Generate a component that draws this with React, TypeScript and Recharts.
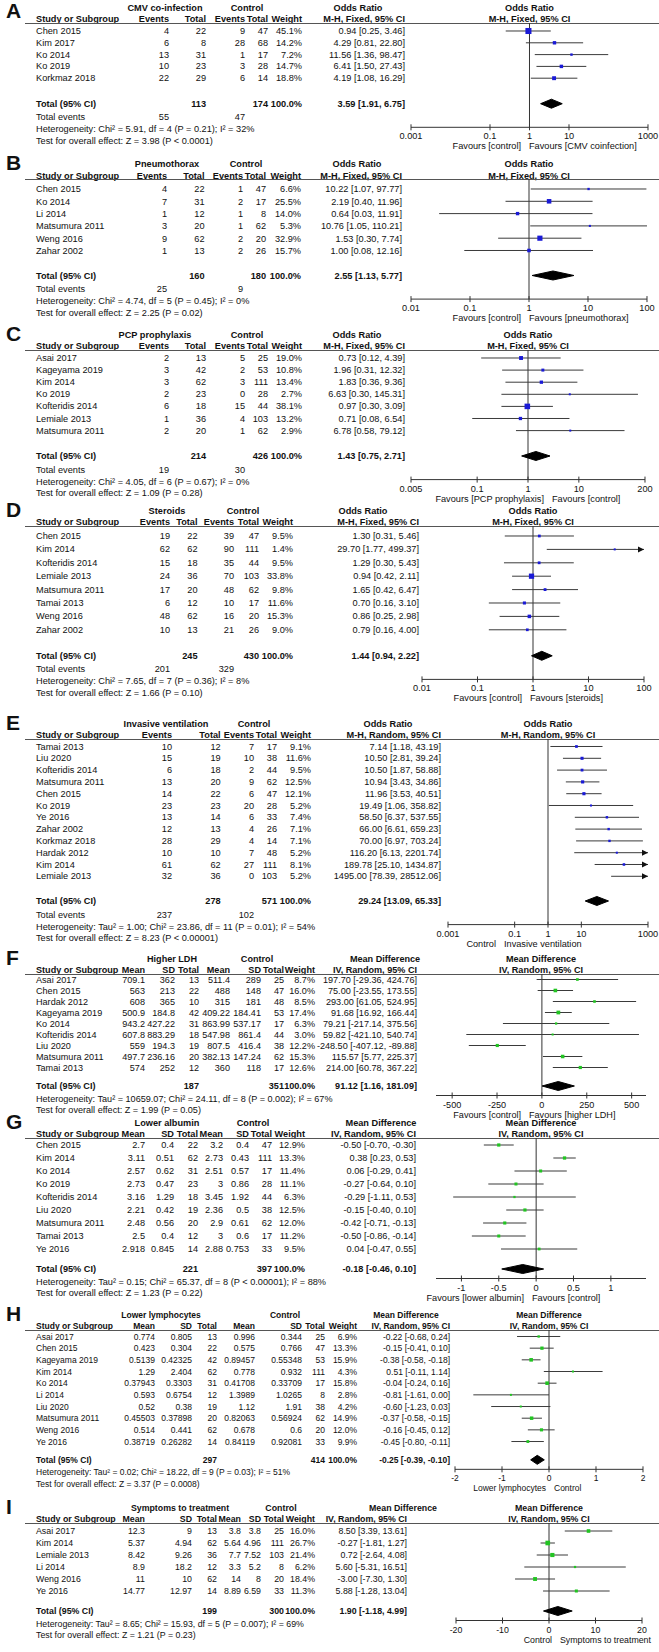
import React from "react";
import { ScatterChart, Scatter, XAxis, YAxis, ErrorBar, ReferenceLine } from "recharts";

const FONT = "'Liberation Sans', Arial, Helvetica, sans-serif";

// ---------------- A: CMV co-infection ----------------
const cmvStudies = ["Chen 2015", "Kim 2017", "Ko 2014", "Ko 2019", "Korkmaz 2018"];
const cmvExpEvents = [4, 6, 13, 10, 22];
const cmvExpTotal = [22, 8, 31, 23, 29];
const cmvCtrlEvents = [9, 28, 1, 3, 6];
const cmvCtrlTotal = [47, 68, 17, 28, 14];
const cmvWeight = [45.1, 14.2, 7.2, 14.7, 18.8];
const cmvOR = [0.94, 4.29, 11.56, 6.41, 4.19];
const cmvLow = [0.25, 0.81, 1.36, 1.5, 1.08];
const cmvHigh = [3.46, 22.8, 98.47, 27.43, 16.29];
const cmvPooled = [3.59, 1.91, 6.75];
const cmvTotals = [113, 174];
const cmvTotalEvents = [55, 47];

// ---------------- B: Pneumothorax ----------------
const pnxStudies = ["Chen 2015", "Ko 2014", "Li 2014", "Matsumura 2011", "Weng 2016", "Zahar 2002"];
const pnxExpEvents = [4, 7, 1, 3, 9, 1];
const pnxExpTotal = [22, 31, 12, 20, 62, 13];
const pnxCtrlEvents = [1, 2, 1, 1, 2, 2];
const pnxCtrlTotal = [47, 17, 8, 62, 20, 26];
const pnxWeight = [6.6, 25.5, 14.0, 5.3, 32.9, 15.7];
const pnxOR = [10.22, 2.19, 0.64, 10.76, 1.53, 1.0];
const pnxLow = [1.07, 0.4, 0.03, 1.05, 0.3, 0.08];
const pnxHigh = [97.77, 11.96, 11.91, 110.21, 7.74, 12.16];
const pnxPooled = [2.55, 1.13, 5.77];
const pnxTotals = [160, 180];
const pnxTotalEvents = [25, 9];

// ---------------- C: PCP prophylaxis ----------------
const pcpStudies = ["Asai 2017", "Kageyama 2019", "Kim 2014", "Ko 2019", "Kofteridis 2014", "Lemiale 2013", "Matsumura 2011"];
const pcpExpEvents = [2, 3, 3, 2, 6, 1, 2];
const pcpExpTotal = [13, 42, 62, 23, 18, 36, 20];
const pcpCtrlEvents = [5, 2, 3, 0, 15, 4, 1];
const pcpCtrlTotal = [25, 53, 111, 28, 44, 103, 62];
const pcpWeight = [19.0, 10.8, 13.4, 2.7, 38.1, 13.2, 2.9];
const pcpOR = [0.73, 1.96, 1.83, 6.63, 0.97, 0.71, 6.78];
const pcpLow = [0.12, 0.31, 0.36, 0.3, 0.3, 0.08, 0.58];
const pcpHigh = [4.39, 12.32, 9.36, 145.31, 3.09, 6.54, 79.12];
const pcpPooled = [1.43, 0.75, 2.71];
const pcpTotals = [214, 426];
const pcpTotalEvents = [19, 30];

// ---------------- D: Steroids ----------------
const steStudies = ["Chen 2015", "Kim 2014", "Kofteridis 2014", "Lemiale 2013", "Matsumura 2011", "Tamai 2013", "Weng 2016", "Zahar 2002"];
const steExpEvents = [19, 62, 15, 24, 17, 6, 48, 10];
const steExpTotal = [22, 62, 18, 36, 20, 12, 62, 13];
const steCtrlEvents = [39, 90, 35, 70, 48, 10, 16, 21];
const steCtrlTotal = [47, 111, 44, 103, 62, 17, 20, 26];
const steWeight = [9.5, 1.4, 9.5, 33.8, 9.8, 11.6, 15.3, 9.0];
const steOR = [1.3, 29.7, 1.29, 0.94, 1.65, 0.7, 0.86, 0.79];
const steLow = [0.31, 1.77, 0.3, 0.42, 0.42, 0.16, 0.25, 0.16];
const steHigh = [5.46, 499.37, 5.43, 2.11, 6.47, 3.1, 2.98, 4.0];
const stePooled = [1.44, 0.94, 2.22];
const steTotals = [245, 430];
const steTotalEvents = [201, 329];

// ---------------- E: Invasive ventilation ----------------
const ivStudies = ["Tamai 2013", "Liu 2020", "Kofteridis 2014", "Matsumura 2011", "Chen 2015", "Ko 2019", "Ye 2016", "Zahar 2002", "Korkmaz 2018", "Hardak 2012", "Kim 2014", "Lemiale 2013"];
const ivExpEvents = [10, 15, 6, 13, 14, 23, 13, 12, 28, 10, 61, 32];
const ivExpTotal = [12, 19, 18, 20, 22, 23, 14, 13, 29, 10, 62, 36];
const ivCtrlEvents = [7, 10, 2, 9, 6, 20, 6, 4, 4, 7, 27, 0];
const ivCtrlTotal = [17, 38, 44, 62, 47, 28, 33, 26, 14, 48, 111, 103];
const ivWeight = [9.1, 11.6, 9.5, 12.5, 12.1, 5.2, 7.4, 7.1, 7.1, 5.2, 8.1, 5.2];
const ivOR = [7.14, 10.5, 10.5, 10.94, 11.96, 19.49, 58.5, 66.0, 70.0, 116.2, 189.78, 1495.0];
const ivLow = [1.18, 2.81, 1.87, 3.43, 3.53, 1.06, 6.37, 6.61, 6.97, 6.13, 25.1, 78.39];
const ivHigh = [43.19, 39.24, 58.88, 34.86, 40.51, 358.82, 537.55, 659.23, 703.24, 2201.74, 1434.87, 28512.06];
const ivPooled = [29.24, 13.09, 65.33];
const ivTotals = [278, 571];
const ivTotalEvents = [237, 102];

// ---------------- F: Higher LDH ----------------
const ldhStudies = ["Asai 2017", "Chen 2015", "Hardak 2012", "Kageyama 2019", "Ko 2014", "Kofteridis 2014", "Liu 2020", "Matsumura 2011", "Tamai 2013"];
const ldhExpMean = [709.1, 563, 608, 500.9, 943.2, 607.8, 559, 497.7, 574];
const ldhExpSD = [362, 213, 365, 184.8, 427.22, 883.29, 194.3, 236.16, 252];
const ldhExpTotal = [13, 22, 10, 42, 31, 18, 19, 20, 12];
const ldhCtrlMean = [511.4, 488, 315, 409.22, 863.99, 547.98, 807.5, 382.13, 360];
const ldhCtrlSD = [289, 148, 181, 184.41, 537.17, 861.4, 416.4, 147.24, 118];
const ldhCtrlTotal = [25, 47, 48, 53, 17, 44, 38, 62, 17];
const ldhWeight = [8.7, 16.0, 8.5, 17.4, 6.3, 3.0, 12.2, 15.3, 12.6];
const ldhMD = [197.7, 75.0, 293.0, 91.68, 79.21, 59.82, -248.5, 115.57, 214.0];
const ldhLow = [-29.36, -23.55, 61.05, 16.92, -217.14, -421.1, -407.12, 5.77, 60.78];
const ldhHigh = [424.76, 173.55, 524.95, 166.44, 375.56, 540.74, -89.88, 225.37, 367.22];
const ldhPooled = [91.12, 1.16, 181.09];
const ldhTotals = [187, 351];

// ---------------- G: Lower albumin ----------------
const albStudies = ["Chen 2015", "Kim 2014", "Ko 2014", "Ko 2019", "Kofteridis 2014", "Liu 2020", "Matsumura 2011", "Tamai 2013", "Ye 2016"];
const albExpMean = [2.7, 3.11, 2.57, 2.73, 3.16, 2.21, 2.48, 2.5, 2.918];
const albExpSD = [0.4, 0.51, 0.62, 0.47, 1.29, 0.42, 0.56, 0.4, 0.845];
const albExpTotal = [22, 62, 31, 23, 18, 19, 20, 12, 14];
const albCtrlMean = [3.2, 2.73, 2.51, 3, 3.45, 2.36, 2.9, 3, 2.88];
const albCtrlSD = [0.4, 0.43, 0.57, 0.86, 1.92, 0.5, 0.61, 0.6, 0.753];
const albCtrlTotal = [47, 111, 17, 28, 44, 38, 62, 17, 33];
const albWeight = [12.9, 13.3, 11.4, 11.1, 6.3, 12.5, 12.0, 11.2, 9.5];
const albMD = [-0.5, 0.38, 0.06, -0.27, -0.29, -0.15, -0.42, -0.5, 0.04];
const albLow = [-0.7, 0.23, -0.29, -0.64, -1.11, -0.4, -0.71, -0.86, -0.47];
const albHigh = [-0.3, 0.53, 0.41, 0.1, 0.53, 0.1, -0.13, -0.14, 0.55];
const albPooled = [-0.18, -0.46, 0.1];
const albTotals = [221, 397];

// ---------------- H: Lower lymphocytes ----------------
const lymStudies = ["Asai 2017", "Chen 2015", "Kageyama 2019", "Kim 2014", "Ko 2014", "Li 2014", "Liu 2020", "Matsumura 2011", "Weng 2016", "Ye 2016"];
const lymExpMean = [0.774, 0.423, 0.5139, 1.29, 0.37943, 0.593, 0.52, 0.45503, 0.514, 0.38719];
const lymExpSD = [0.805, 0.304, 0.42325, 2.404, 0.3303, 0.6754, 0.38, 0.37898, 0.441, 0.26282];
const lymExpTotal = [13, 22, 42, 62, 31, 12, 19, 20, 62, 14];
const lymCtrlMean = [0.996, 0.575, 0.89457, 0.778, 0.41708, 1.3989, 1.12, 0.82063, 0.678, 0.84119];
const lymCtrlSD = [0.344, 0.766, 0.55348, 0.932, 0.33709, 1.0265, 1.91, 0.56924, 0.6, 0.92081];
const lymCtrlTotal = [25, 47, 53, 111, 17, 8, 38, 62, 20, 33];
const lymWeight = [6.9, 13.3, 15.9, 4.3, 15.8, 2.8, 4.2, 14.9, 12.0, 9.9];
const lymMD = [-0.22, -0.15, -0.38, 0.51, -0.04, -0.81, -0.6, -0.37, -0.16, -0.45];
const lymLow = [-0.68, -0.41, -0.58, -0.11, -0.24, -1.61, -1.23, -0.58, -0.45, -0.8];
const lymHigh = [0.24, 0.1, -0.18, 1.14, 0.16, 0.0, 0.03, -0.15, 0.12, -0.11];
const lymPooled = [-0.25, -0.39, -0.1];
const lymTotals = [297, 414];

// ---------------- I: Symptoms to treatment ----------------
const sttStudies = ["Asai 2017", "Kim 2014", "Lemiale 2013", "Li 2014", "Weng 2016", "Ye 2016"];
const sttExpMean = [12.3, 5.37, 8.42, 8.9, 11, 14.77];
const sttExpSD = [9, 4.94, 9.26, 18.2, 10, 12.97];
const sttExpTotal = [13, 62, 36, 12, 62, 14];
const sttCtrlMean = [3.8, 5.64, 7.7, 3.3, 14, 8.89];
const sttCtrlSD = [3.8, 4.96, 7.52, 5.2, 8, 6.59];
const sttCtrlTotal = [25, 111, 103, 8, 20, 33];
const sttWeight = [16.0, 26.7, 21.4, 6.2, 18.4, 11.3];
const sttMD = [8.5, -0.27, 0.72, 5.6, -3.0, 5.88];
const sttLow = [3.39, -1.81, -2.64, -5.31, -7.3, -1.28];
const sttHigh = [13.61, 1.27, 4.08, 16.51, 1.3, 13.04];
const sttPooled = [1.9, -1.18, 4.99];
const sttTotals = [199, 300];

// ---------------- helpers ----------------
const pct = (w: number) => `${w.toFixed(1)}%`;
const ci = (e: number, l: number, h: number) => `${e.toFixed(2)} [${l.toFixed(2)}, ${h.toFixed(2)}]`;

type Layout = {
  line: number;
  row0: number;
  step: number;
  gap: number;
  colX: number[];
  h1X: number[];
  plotX: [number, number];
  split: number;
  fs?: number;
};

type PanelDef = Layout & {
  letter: string;
  h1: string[];
  h2: string[];
  method: string;
  studies: string[];
  cols: string[][];
  totalRow: string[];
  eventsRow?: string[];
  est: number[];
  lo: number[];
  hi: number[];
  weight: number[];
  pooled: number[];
  het: string;
  test: string;
  favL: string;
  favR: string;
  domain: [number, number];
  ticks: number[];
  log: boolean;
  color: string;
};

function dich(
  letter: string, group: string, method: string, studies: string[],
  ee: number[], et: number[], ce: number[], ct: number[], w: number[],
  est: number[], lo: number[], hi: number[], pooled: number[], totals: number[], events: number[],
  het: string, test: string, favL: string, favR: string,
  domain: [number, number], ticks: number[], layout: Layout
): PanelDef {
  return {
    ...layout, letter, method, studies, est, lo, hi, weight: w, pooled, het, test, favL, favR, domain, ticks,
    log: true, color: "#1a1ad6",
    h1: [group, "Control", "Odds Ratio"],
    h2: ["Events", "Total", "Events", "Total", "Weight", method],
    cols: [ee.map(String), et.map(String), ce.map(String), ct.map(String), w.map(pct), est.map((e, i) => ci(e, lo[i], hi[i]))],
    totalRow: ["", String(totals[0]), "", String(totals[1]), "100.0%", ci(pooled[0], pooled[1], pooled[2])],
    eventsRow: [String(events[0]), "", String(events[1]), "", "", ""],
  };
}

function cont(
  letter: string, group: string, studies: string[],
  em: number[], es: number[], et: number[], cm: number[], cs: number[], ct: number[], w: number[],
  est: number[], lo: number[], hi: number[], pooled: number[], totals: number[],
  het: string, test: string, favL: string, favR: string,
  domain: [number, number], ticks: number[], layout: Layout
): PanelDef {
  const method = "IV, Random, 95% CI";
  return {
    ...layout, letter, method, studies, est, lo, hi, weight: w, pooled, het, test, favL, favR, domain, ticks,
    log: false, color: "#22c422",
    h1: [group, "Control", "Mean Difference"],
    h2: ["Mean", "SD", "Total", "Mean", "SD", "Total", "Weight", method],
    cols: [em.map(String), es.map(String), et.map(String), cm.map(String), cs.map(String), ct.map(String), w.map(pct), est.map((e, i) => ci(e, lo[i], hi[i]))],
    totalRow: ["", "", String(totals[0]), "", "", String(totals[1]), "100.0%", ci(pooled[0], pooled[1], pooled[2])],
  };
}

const dichCols = [169, 206, 245, 268, 302, 405];

const panels: PanelDef[] = [
  dich("A", "CMV co-infection", "M-H, Fixed, 95% CI", cmvStudies, cmvExpEvents, cmvExpTotal, cmvCtrlEvents, cmvCtrlTotal, cmvWeight,
    cmvOR, cmvLow, cmvHigh, cmvPooled, cmvTotals, cmvTotalEvents,
    "Heterogeneity: Chi² = 5.91, df = 4 (P = 0.21); I² = 32%", "Test for overall effect: Z = 3.98 (P < 0.0001)",
    "Favours [control]", "Favours [CMV coinfection]", [0.001, 1000], [0.001, 0.1, 1, 10, 1000],
    { line: 23, row0: 31, step: 11.8, gap: 25.5, colX: dichCols, h1X: [165, 247, 358], plotX: [411, 648], split: 525 }),
  dich("B", "Pneumothorax", "M-H, Fixed, 95% CI", pnxStudies, pnxExpEvents, pnxExpTotal, pnxCtrlEvents, pnxCtrlTotal, pnxWeight,
    pnxOR, pnxLow, pnxHigh, pnxPooled, pnxTotals, pnxTotalEvents,
    "Heterogeneity: Chi² = 4.74, df = 5 (P = 0.45); I² = 0%", "Test for overall effect: Z = 2.25 (P = 0.02)",
    "Favours [control]", "Favours [pneumothorax]", [0.01, 100], [0.01, 0.1, 1, 10, 100],
    { line: 179.3, row0: 189.3, step: 12.3, gap: 25, colX: [167, 204.5, 243, 266, 301, 402], h1X: [167, 246, 357], plotX: [411, 647], split: 525 }),
  dich("C", "PCP prophylaxis", "M-H, Fixed, 95% CI", pcpStudies, pcpExpEvents, pcpExpTotal, pcpCtrlEvents, pcpCtrlTotal, pcpWeight,
    pcpOR, pcpLow, pcpHigh, pcpPooled, pcpTotals, pcpTotalEvents,
    "Heterogeneity: Chi² = 4.05, df = 6 (P = 0.67); I² = 0%", "Test for overall effect: Z = 1.09 (P = 0.28)",
    "Favours [PCP prophylaxis]", "Favours [control]", [0.005, 200], [0.005, 0.1, 1, 10, 200],
    { line: 350, row0: 358, step: 12.1, gap: 25.4, colX: dichCols, h1X: [155, 247, 357], plotX: [411, 645], split: 548 }),
  dich("D", "Steroids", "M-H, Fixed, 95% CI", steStudies, steExpEvents, steExpTotal, steCtrlEvents, steCtrlTotal, steWeight,
    steOR, steLow, steHigh, stePooled, steTotals, steTotalEvents,
    "Heterogeneity: Chi² = 7.65, df = 7 (P = 0.36); I² = 8%", "Test for overall effect: Z = 1.66 (P = 0.10)",
    "Favours [control]", "Favours [steroids]", [0.01, 100], [0.01, 0.1, 1, 10, 100],
    { line: 526, row0: 536, step: 13.4, gap: 26, colX: [170, 197.5, 234, 259, 293, 419], h1X: [167, 243, 363], plotX: [422, 644], split: 526 }),
  dich("E", "Invasive ventilation", "M-H, Random, 95% CI", ivStudies, ivExpEvents, ivExpTotal, ivCtrlEvents, ivCtrlTotal, ivWeight,
    ivOR, ivLow, ivHigh, ivPooled, ivTotals, ivTotalEvents,
    "Heterogeneity: Tau² = 1.00; Chi² = 23.86, df = 11 (P = 0.01); I² = 54%", "Test for overall effect: Z = 8.23 (P < 0.00001)",
    "Control", "Invasive ventilation", [0.001, 1000], [0.001, 0.1, 1, 10, 1000],
    { line: 739, row0: 746.5, step: 11.8, gap: 24.7, colX: [172, 220.6, 254, 277, 311, 441], h1X: [166, 254, 388], plotX: [448, 648], split: 500 }),
  cont("F", "Higher LDH", ldhStudies, ldhExpMean, ldhExpSD, ldhExpTotal, ldhCtrlMean, ldhCtrlSD, ldhCtrlTotal, ldhWeight,
    ldhMD, ldhLow, ldhHigh, ldhPooled, ldhTotals,
    "Heterogeneity: Tau² = 10659.07; Chi² = 24.11, df = 8 (P = 0.002); I² = 67%", "Test for overall effect: Z = 1.99 (P = 0.05)",
    "Favours [control]", "Favours [higher LDH]", [-590, 580], [-500, -250, 0, 250, 500],
    { line: 974, row0: 979.5, step: 11, gap: 18.5, colX: [145, 175, 199, 230, 261, 284, 315, 417], h1X: [172, 257, 385], plotX: [436, 646], split: 525, fs: 9.1 }),
  cont("G", "Lower albumin", albStudies, albExpMean, albExpSD, albExpTotal, albCtrlMean, albCtrlSD, albCtrlTotal, albWeight,
    albMD, albLow, albHigh, albPooled, albTotals,
    "Heterogeneity: Tau² = 0.15; Chi² = 65.37, df = 8 (P < 0.00001); I² = 88%", "Test for overall effect: Z = 1.23 (P = 0.22)",
    "Favours [lower albumin]", "Favours [control]", [-1.34, 1.47], [-1, -0.5, 0, 0.5, 1],
    { line: 1138, row0: 1145, step: 13, gap: 20, colX: [145, 174, 198, 223, 249, 272, 305, 416], h1X: [167, 253, 381], plotX: [436, 646], split: 528 }),
  cont("H", "Lower lymphocytes", lymStudies, lymExpMean, lymExpSD, lymExpTotal, lymCtrlMean, lymCtrlSD, lymCtrlTotal, lymWeight,
    lymMD, lymLow, lymHigh, lymPooled, lymTotals,
    "Heterogeneity: Tau² = 0.02; Chi² = 18.22, df = 9 (P = 0.03); I² = 51%", "Test for overall effect: Z = 3.37 (P = 0.0008)",
    "Lower lymphocytes", "Control", [-2, 2], [-2, -1, 0, 1, 2],
    { line: 1330, row0: 1336.5, step: 11.67, gap: 18.3, colX: [155, 192, 217, 255, 302, 325, 357, 450], h1X: [161, 285, 406], plotX: [455, 643], split: 550, fs: 8.5 }),
  cont("I", "Symptoms to treatment", sttStudies, sttExpMean, sttExpSD, sttExpTotal, sttCtrlMean, sttCtrlSD, sttCtrlTotal, sttWeight,
    sttMD, sttLow, sttHigh, sttPooled, sttTotals,
    "Heterogeneity: Tau² = 8.65; Chi² = 15.93, df = 5 (P = 0.007); I² = 69%", "Test for overall effect: Z = 1.21 (P = 0.23)",
    "Control", "Symptoms to treatment", [-20, 20], [-20, -10, 0, 10, 20],
    { line: 1523, row0: 1531, step: 12, gap: 20, colX: [145, 192, 217, 241, 261, 284, 315, 407], h1X: [180, 281, 403], plotX: [456, 642], split: 556, fs: 8.8 }),
];

// ---------------- drawing ----------------
type Align = "left" | "right" | "center";

function Txt({ x, y, align = "left", bold = false, size, lh = 12, children }: { x: number; y: number; align?: Align; bold?: boolean; size: number; lh?: number; children: React.ReactNode }) {
  const w = 420;
  const left = align === "left" ? x : align === "right" ? x - w : x - w / 2;
  return (
    <div
      style={{
        position: "absolute",
        left,
        top: y - lh / 2,
        width: w,
        textAlign: align,
        fontSize: size,
        lineHeight: `${lh}px`,
        fontWeight: bold ? "bold" : "normal",
        whiteSpace: "nowrap",
      }}
    >
      {children}
    </div>
  );
}

const PAD = 24;

function ForestPanel({ p }: { p: PanelDef }) {
  const fs = p.fs ?? 9.2;
  const n = p.studies.length;
  const rowY = (i: number) => p.row0 + i * p.step;
  const totalY = rowY(n - 1) + p.gap;
  const eventsY = totalY + 13.6;
  const hetY = p.eventsRow ? eventsY + 12 : totalY + 12.5;
  const testY = hetY + 11.7;
  const axisY = p.eventsRow ? hetY - 2 : hetY - 3;
  const favY = axisY + 19;
  const [pl, pr] = p.plotX;
  const plotH = axisY - p.line;
  const dMin = (p.line - p.row0) / p.step;
  const dMax = dMin + plotH / p.step;
  const [xmin, xmax] = p.domain;
  const ref = p.log ? 1 : 0;

  const rows = p.est.map((e, i) => {
    const l = Math.max(p.lo[i], xmin);
    const h = Math.min(p.hi[i], xmax);
    return { x: e, y: i, w: p.weight[i], err: [e - l, h - e] };
  });
  const arrows = p.est
    .map((_, i) => ({ x: xmax, y: i, over: p.hi[i] > xmax * (p.log ? 1.2 : 1) }))
    .filter((a) => a.over);
  const t = (totalY - p.row0) / p.step;
  const hh = 4.5 / p.step;
  const diamond = [
    { x: p.pooled[1], y: t },
    { x: p.pooled[0], y: t - hh },
    { x: p.pooled[2], y: t },
    { x: p.pooled[0], y: t + hh },
    { x: p.pooled[1], y: t },
  ];

  const square = (props: any) => {
    const { cx, cy, payload } = props;
    if (payload.x > xmax || payload.x < xmin) return <g />;
    const s = Math.max(2, 0.9 * Math.sqrt(payload.w));
    return <rect x={cx - s / 2} y={cy - s / 2} width={s} height={s} fill={p.color} />;
  };
  const arrow = (props: any) => {
    const { cx, cy } = props;
    return <polygon points={`${cx - 6},${cy - 3} ${cx},${cy} ${cx - 6},${cy + 3}`} fill="#111" />;
  };
  const tick = (props: any) => {
    const { x, y, payload } = props;
    return (
      <g>
        <line x1={x} x2={x} y1={y - 3} y2={y + 3} stroke="#333" />
        <text x={x} y={y + 12} textAnchor="middle" fontSize={fs} fontFamily={FONT} fill="#111">
          {String(payload.value)}
        </text>
      </g>
    );
  };

  const studyX = 36;
  const plotMid = (pl + pr) / 2;
  const letterY = Math.max(p.line - 16, 11);

  return (
    <>
      <Txt x={6} y={letterY} size={21} lh={20} bold>
        {p.letter}
      </Txt>
      {p.h1.map((h, i) => (
        <Txt key={"h1" + i} x={p.h1X[i]} y={p.line - 15.5} align="center" bold size={fs}>
          {h}
        </Txt>
      ))}
      <Txt x={plotMid} y={p.line - 15.5} align="center" bold size={fs}>
        {p.h1[2]}
      </Txt>
      <Txt x={studyX} y={p.line - 3.8} bold size={fs}>
        Study or Subgroup
      </Txt>
      {p.h2.map((h, i) => (
        <Txt key={"h2" + i} x={p.colX[i]} y={p.line - 3.8} align="right" bold size={fs}>
          {h}
        </Txt>
      ))}
      <Txt x={plotMid} y={p.line - 3.8} align="center" bold size={fs}>
        {p.method}
      </Txt>
      <div style={{ position: "absolute", left: 25, top: p.line, width: 640, borderTop: "1px solid #555" }} />
      {p.studies.map((s, r) => (
        <React.Fragment key={s + r}>
          <Txt x={studyX} y={rowY(r)} size={fs}>
            {s}
          </Txt>
          {p.cols.map((c, i) => (
            <Txt key={i} x={p.colX[i]} y={rowY(r)} align="right" size={fs}>
              {c[r]}
            </Txt>
          ))}
        </React.Fragment>
      ))}
      <Txt x={studyX} y={totalY} bold size={fs}>
        Total (95% CI)
      </Txt>
      {p.totalRow.map((c, i) => (
        <Txt key={"t" + i} x={p.colX[i]} y={totalY} align="right" bold size={fs}>
          {c}
        </Txt>
      ))}
      {p.eventsRow && (
        <>
          <Txt x={studyX} y={eventsY} size={fs}>
            Total events
          </Txt>
          {p.eventsRow.map((c, i) => (
            <Txt key={"e" + i} x={p.colX[i]} y={eventsY} align="right" size={fs}>
              {c}
            </Txt>
          ))}
        </>
      )}
      <Txt x={studyX} y={hetY} size={fs}>
        {p.het}
      </Txt>
      <Txt x={studyX} y={testY} size={fs}>
        {p.test}
      </Txt>
      <Txt x={p.split - 4} y={favY} align="right" size={fs}>
        {p.favL}
      </Txt>
      <Txt x={p.split + 4} y={favY} size={fs}>
        {p.favR}
      </Txt>
      <div style={{ position: "absolute", left: pl - PAD, top: p.line }}>
        <ScatterChart width={pr - pl + 2 * PAD} height={plotH + 30} margin={{ top: 0, right: PAD, bottom: 0, left: PAD }}>
          <XAxis
            type="number"
            dataKey="x"
            scale={p.log ? "log" : "linear"}
            domain={p.domain}
            allowDataOverflow
            ticks={p.ticks}
            interval={0}
            tick={tick}
            tickLine={false}
            tickSize={0}
            tickMargin={0}
            height={30}
            axisLine={{ stroke: "#333" }}
          />
          <YAxis type="number" dataKey="y" hide domain={[dMin, dMax]} reversed allowDataOverflow />
          <ReferenceLine x={ref} stroke="#333" />
          <Scatter data={rows} shape={square} isAnimationActive={false}>
            <ErrorBar dataKey="err" direction="x" width={0} stroke="#3a3a3a" strokeWidth={1} />
          </Scatter>
          <Scatter data={arrows} shape={arrow} isAnimationActive={false} />
          <Scatter
            data={diamond}
            shape={() => <g />}
            line={{ stroke: "#000", fill: "#000", strokeWidth: 1 }}
            lineType="joint"
            isAnimationActive={false}
          />
        </ScatterChart>
      </div>
    </>
  );
}

export default function App() {
  return (
    <div
      style={{
        position: "relative",
        width: 659,
        height: 1652,
        overflow: "hidden",
        background: "#fff",
        fontFamily: FONT,
        color: "#111",
      }}
    >
      <style>{"html,body{margin:0;padding:0;background:#fff}"}</style>
      {panels.map((p) => (
        <ForestPanel key={p.letter} p={p} />
      ))}
    </div>
  );
}
